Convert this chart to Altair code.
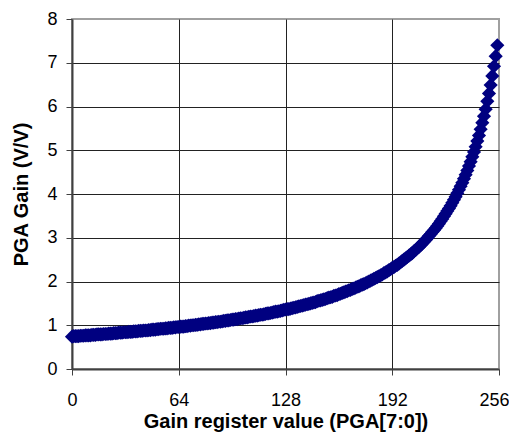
import altair as alt
import pandas as pd

codes = list(range(256))
gain = [
    0.74, 0.75, 0.75, 0.75, 0.75, 0.76, 0.76, 0.76, 0.77, 0.77,
    0.77, 0.77, 0.78, 0.78, 0.78, 0.79, 0.79, 0.79, 0.79, 0.80,
    0.80, 0.80, 0.81, 0.81, 0.81, 0.82, 0.82, 0.82, 0.83, 0.83,
    0.83, 0.84, 0.84, 0.84, 0.85, 0.85, 0.85, 0.86, 0.86, 0.86,
    0.87, 0.87, 0.87, 0.88, 0.88, 0.88, 0.89, 0.89, 0.90, 0.90,
    0.90, 0.91, 0.91, 0.92, 0.92, 0.92, 0.93, 0.93, 0.94, 0.94,
    0.94, 0.95, 0.95, 0.96, 0.96, 0.97, 0.97, 0.97, 0.98, 0.98,
    0.99, 0.99, 1.00, 1.00, 1.01, 1.01, 1.02, 1.02, 1.03, 1.03,
    1.04, 1.04, 1.05, 1.05, 1.06, 1.06, 1.07, 1.07, 1.08, 1.08,
    1.09, 1.10, 1.10, 1.11, 1.11, 1.12, 1.13, 1.13, 1.14, 1.14,
    1.15, 1.16, 1.16, 1.17, 1.18, 1.18, 1.19, 1.20, 1.20, 1.21,
    1.22, 1.22, 1.23, 1.24, 1.24, 1.25, 1.26, 1.27, 1.27, 1.28,
    1.29, 1.30, 1.31, 1.31, 1.32, 1.33, 1.34, 1.35, 1.36, 1.37,
    1.37, 1.38, 1.39, 1.40, 1.41, 1.42, 1.43, 1.44, 1.45, 1.46,
    1.47, 1.48, 1.49, 1.50, 1.51, 1.52, 1.53, 1.55, 1.56, 1.57,
    1.58, 1.59, 1.60, 1.62, 1.63, 1.64, 1.65, 1.67, 1.68, 1.69,
    1.71, 1.72, 1.74, 1.75, 1.77, 1.78, 1.80, 1.81, 1.83, 1.84,
    1.86, 1.88, 1.89, 1.91, 1.93, 1.94, 1.96, 1.98, 2.00, 2.02,
    2.04, 2.06, 2.08, 2.10, 2.12, 2.14, 2.16, 2.19, 2.21, 2.23,
    2.26, 2.28, 2.31, 2.33, 2.36, 2.38, 2.41, 2.44, 2.47, 2.50,
    2.53, 2.56, 2.59, 2.62, 2.65, 2.69, 2.72, 2.76, 2.79, 2.83,
    2.87, 2.91, 2.95, 2.99, 3.04, 3.08, 3.13, 3.17, 3.22, 3.27,
    3.32, 3.38, 3.43, 3.49, 3.55, 3.61, 3.67, 3.73, 3.80, 3.87,
    3.94, 4.02, 4.10, 4.18, 4.26, 4.35, 4.44, 4.54, 4.64, 4.74,
    4.85, 4.96, 5.08, 5.21, 5.34, 5.48, 5.63, 5.78, 5.94, 6.12,
    6.30, 6.49, 6.70, 6.92, 7.15, 7.40,
]
x_ticks = [0, 64, 128, 192, 256]
y_ticks = [0, 1, 2, 3, 4, 5, 6, 7, 8]

df = pd.DataFrame({"code": codes, "gain": gain})

FONT = "Liberation Sans"

x_axis = alt.Axis(
    values=x_ticks,
    title="Gain register value (PGA[7:0])",
    titleFontSize=20,
    titleFontWeight="bold",
    titleX=213.5,
    titleY=58,
    titleAlign="center",
    titleBaseline="alphabetic",
    labelFontSize=18,
    labelBaseline="alphabetic",
    labelPadding=30,
    labelFlush=False,
    labelOffset=alt.condition("datum.value == 256", alt.value(-5), alt.value(0)),
    tickSize=6,
    grid=True,
    gridOpacity=alt.condition("datum.value == 0 || datum.value == 256", alt.value(0), alt.value(1)),
)

y_axis = alt.Axis(
    values=y_ticks,
    title="PGA Gain (V/V)",
    titleFontSize=20,
    titleFontWeight="bold",
    titleX=-45,
    titleY=175,
    titleAngle=270,
    titleAlign="center",
    titleBaseline="alphabetic",
    labelFontSize=18,
    labelBaseline="middle",
    labelPadding=9,
    labelFlush=False,
    tickSize=6,
    grid=True,
    gridOpacity=alt.condition("datum.value == 0 || datum.value == 8", alt.value(0), alt.value(1)),
)

chart = (
    alt.Chart(df)
    .mark_point(shape="diamond", filled=True, color="#000080", size=200, opacity=1, strokeWidth=0)
    .encode(
        x=alt.X("code:Q", scale=alt.Scale(domain=[0, 256], nice=False, zero=False), axis=x_axis),
        y=alt.Y("gain:Q", scale=alt.Scale(domain=[0, 8], nice=False), axis=y_axis),
    )
    .properties(
        width=427,
        height=350,
        autosize=alt.AutoSizeParams(type="none"),
        padding={"left": 64, "top": 11, "right": 10, "bottom": 63},
        background="white",
    )
    .configure_view(stroke="#a0a0a0", strokeWidth=2)
    .configure_axis(
        labelFont=FONT,
        titleFont=FONT,
        labelColor="black",
        titleColor="black",
        domainColor="#404040",
        domainWidth=2,
        tickColor="#404040",
        tickWidth=1,
        gridColor="#222222",
        gridWidth=1,
    )
)

chart.save("out.html", embed_options={"renderer": "svg", "actions": False})
